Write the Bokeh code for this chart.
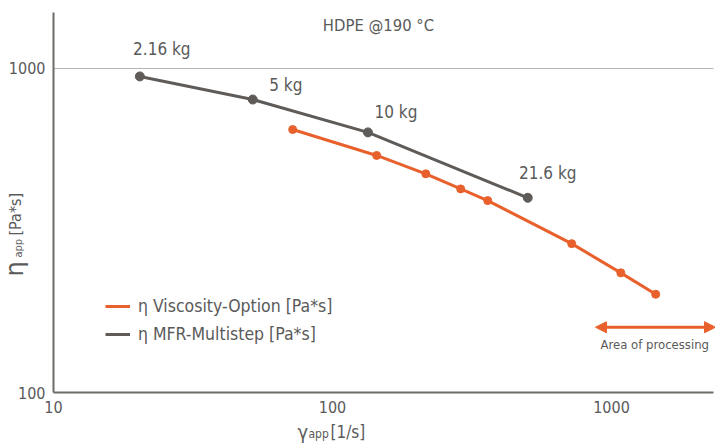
import math
from bokeh.plotting import figure
from bokeh.models import (Label, Legend, LegendItem, Arrow, NormalHead,
                          FixedTicker, Range1d, PrintfTickFormatter)
from bokeh.core.properties import value
from bokeh.embed import file_html
from bokeh.resources import INLINE

# ---- data ----
visc_rate = [72, 144, 216, 288, 360, 720, 1080, 1440]          # 1/s
visc_eta = [648, 539, 473, 425, 391, 288, 234, 201]            # Pa*s

mfr_rate = [20.4, 51.8, 134, 501]                              # 1/s
mfr_eta = [945, 802, 635, 399]                                 # Pa*s
mfr_loads = ["2.16 kg", "5 kg", "10 kg", "21.6 kg"]

x_ticks = [10, 100, 1000]
y_ticks = [100, 1000]
grid_ticks = [1000]
title_text = "HDPE @190 °C"
legend_labels = ["η Viscosity-Option [Pa*s]", "η MFR-Multistep [Pa*s]"]
process_text = "Area of processing"
process_start = 876
process_eta = 159

# ---- styles / positions ----
FONT = "DejaVu Sans Condensed"
ORANGE = "#e8612c"
GRAY = "#5e5b58"
TXT = "#5a5a5a"
AXIS = "#6f6b66"
# visible range (whole canvas is the frame; axes are pinned inside it)
X_START, X_END = 6.46, 2359
Y_START, Y_END = 69.6, 1621
# extent of the drawn axis lines
X_AX = (10, 2320)
Y_AX = (100, 1489)
lbl_dx = [22, 33, 28, 20]
lbl_dy = [-27, -15, -20, -25]

p = figure(width=715, height=443, x_axis_type="log", y_axis_type="log",
           x_range=Range1d(X_START, X_END), y_range=Range1d(Y_START, Y_END),
           output_backend="svg", toolbar_location=None, min_border=0)
p.outline_line_color = None
p.background_fill_color = "white"

for ax, ticks, loc, bnds in ((p.xaxis, x_ticks, Y_AX[0], X_AX),
                             (p.yaxis, y_ticks, X_AX[0], Y_AX)):
    ax.fixed_location = loc
    ax.bounds = bnds
    ax.ticker = FixedTicker(ticks=ticks, minor_ticks=[])
    ax.formatter = PrintfTickFormatter(format="%d")
    ax.major_tick_out = 0
    ax.major_tick_in = 0
    ax.minor_tick_out = 0
    ax.minor_tick_in = 0
    ax.axis_line_color = AXIS
    ax.axis_line_width = 2
    ax.major_label_text_font = FONT
    ax.major_label_text_font_size = "16px"
    ax.major_label_text_color = TXT
p.yaxis.major_label_standoff = 8
p.xaxis.major_label_standoff = 8

p.xgrid.visible = False
p.ygrid.visible = False
# horizontal grid line at 1000, spanning the axis extent
p.segment(x0=[X_AX[0]] * len(grid_ticks), y0=grid_ticks,
          x1=[X_AX[1]] * len(grid_ticks), y1=grid_ticks,
          line_color="#b8b4ad", line_width=1)

# ---- series ----
r_visc = p.line(visc_rate, visc_eta, line_color=ORANGE, line_width=3)
p.scatter(visc_rate, visc_eta, size=8, fill_color=ORANGE, line_color=ORANGE)
r_mfr = p.line(mfr_rate, mfr_eta, line_color=GRAY, line_width=3)
p.scatter(mfr_rate, mfr_eta, size=9, fill_color=GRAY, line_color=GRAY)

p.text(x=mfr_rate, y=mfr_eta, text=mfr_loads, x_offset=lbl_dx, y_offset=lbl_dy,
       text_align="center", text_baseline="middle",
       text_font=value(FONT), text_font_size="17px", text_color=TXT)

# ---- area of processing arrow ----
p.add_layout(Arrow(start=NormalHead(size=11, fill_color=ORANGE, line_color=ORANGE),
                   end=NormalHead(size=11, fill_color=ORANGE, line_color=ORANGE),
                   x_start=process_start, y_start=process_eta,
                   x_end=X_END, y_end=process_eta,
                   line_color=ORANGE, line_width=3))
p.text(x=[process_start], y=[process_eta], text=[process_text],
       x_offset=5, y_offset=17, text_align="left", text_baseline="middle",
       text_font=value(FONT), text_font_size="13px", text_color=TXT)

# ---- title ----
p.add_layout(Label(x=378, y=418, x_units="screen", y_units="screen",
                   text=title_text, text_align="center", text_baseline="middle",
                   text_font=FONT, text_font_size="16.5px", text_color=TXT))

# ---- axis labels (manual, with subscripts) ----
def lab(x, y, t, size, angle=0.0, font=FONT):
    p.add_layout(Label(x=x, y=y, x_units="screen", y_units="screen", text=t,
                       angle=angle, text_align="left", text_baseline="alphabetic",
                       text_font=font, text_font_size=size, text_color=TXT))

lab(297, 12, "γ", "20px")
lab(308, 10, "app", "12px")
lab(330, 12, "[1/s]", "17px")

rot = math.pi / 2
lab(14, 167, "η", "24px", rot, "DejaVu Sans")
lab(18, 186, "app", "11px", rot)
lab(15, 208, "[Pa*s]", "16px", rot)

# ---- legend ----
legend = Legend(items=[LegendItem(label=legend_labels[0], renderers=[r_visc]),
                       LegendItem(label=legend_labels[1], renderers=[r_mfr])],
                location=(105, 99), orientation="vertical",
                glyph_width=25, glyph_height=20, label_height=20,
                label_standoff=8, spacing=8, padding=0, margin=0,
                border_line_color=None, background_fill_alpha=0,
                label_text_font=FONT, label_text_font_size="17.5px",
                label_text_color=TXT)
p.add_layout(legend, "center")

open("out.html", "w").write(file_html(p, INLINE))
